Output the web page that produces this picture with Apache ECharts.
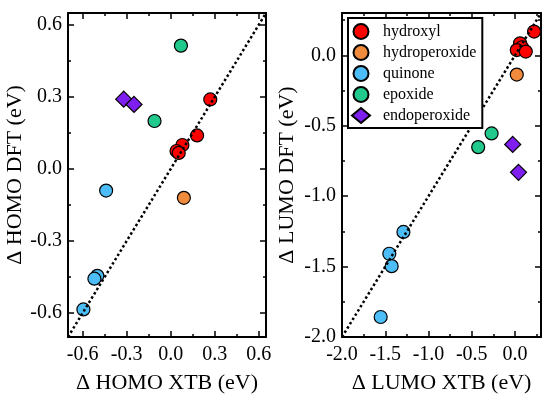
<!DOCTYPE html>
<html>
<head>
<meta charset="utf-8">
<script src="https://cdn.jsdelivr.net/npm/echarts@6/dist/echarts.min.js"></script>
<style>
  html, body { margin: 0; padding: 0; background: #fff; }
  #main { width: 550px; height: 402px; }
</style>
</head>
<body>
<div id="main"></div>
<script>
// HOMO panel (x: XTB, y: DFT)
const homoHydroxyl = [[0.27, 0.29], [0.18, 0.14], [0.08, 0.10], [0.04, 0.075], [0.055, 0.067]]
const homoHydroperoxide = [[0.09, -0.12]]
const homoQuinone = [[-0.44, -0.09], [-0.50, -0.445], [-0.52, -0.457], [-0.595, -0.585]]
const homoEpoxide = [[0.07, 0.514], [-0.11, 0.20]]
const homoEndoperoxide = [[-0.32, 0.291], [-0.25, 0.269]]

// LUMO panel
const lumoHydroxyl = [[0.22, 0.168], [0.058, 0.085], [0.08, 0.057], [0.02, 0.037], [0.124, 0.026]]
const lumoHydroperoxide = [[0.02, -0.137]]
const lumoQuinone = [[-1.29, -1.254], [-1.453, -1.409], [-1.426, -1.497], [-1.553, -1.858]]
const lumoEpoxide = [[-0.271, -0.555], [-0.426, -0.652]]
const lumoEndoperoxide = [[-0.027, -0.633], [0.04, -0.831]]

// axes ranges and ticks
const homoRange = [-0.7, 0.65]
const homoTicks = [-0.6, -0.3, 0, 0.3, 0.6]
const homoMinor = [-0.45, -0.15, 0.15, 0.45]
const lumoRange = [-2.0, 0.3]
const lumoTicks = [-2.0, -1.5, -1.0, -0.5, 0]
const lumoMinor = [-1.75, -1.25, -0.75, -0.25, 0.25]

const groups = ['hydroxyl', 'hydroperoxide', 'quinone', 'epoxide', 'endoperoxide']
const colors = ['#FF0000', '#F08A3C', '#4CBDF7', '#21C98D', '#7F1FEF']
const homoData = [homoHydroxyl, homoHydroperoxide, homoQuinone, homoEpoxide, homoEndoperoxide]
const lumoData = [lumoHydroxyl, lumoHydroperoxide, lumoQuinone, lumoEpoxide, lumoEndoperoxide]

const font = 'Liberation Serif'

// 4 axes per side: main (labels + major ticks), main minor, opposite major, opposite minor
function frameAxes(dim, grid, range, majors, minors, name, nameGap) {
    const main = dim == 'x' ? 'bottom' : 'left'
    const opp = dim == 'x' ? 'top' : 'right'
    const line = { show: true, onZero: false, lineStyle: { color: '#000', width: 2 } }
    const tick = (vals, len) => ({ show: true, inside: true, length: len, customValues: vals, lineStyle: { color: '#000', width: 1.5 } })
    const base = {
        type: 'value', gridIndex: grid, min: range[0], max: range[1],
        splitLine: { show: false },
        axisLine: { show: false, onZero: false },
        axisLabel: { show: false },
        axisTick: { show: false }
    }
    return [
        Object.assign({}, base, {
            position: main,
            name: name,
            nameLocation: 'middle',
            nameGap: nameGap,
            nameTextStyle: { fontFamily: font, fontSize: 22, color: '#000' },
            axisLine: line,
            axisTick: tick(majors, 6),
            axisLabel: {
                show: true, customValues: majors, margin: dim == 'x' ? 8 : 6,
                fontFamily: font, fontSize: 20, color: '#000',
                formatter: v => v.toFixed(1)
            }
        }),
        Object.assign({}, base, { position: main, axisTick: tick(minors, 3) }),
        Object.assign({}, base, { position: opp, axisLine: line, axisTick: tick(majors, 6) }),
        Object.assign({}, base, { position: opp, axisTick: tick(minors, 3) })
    ]
}

function scatterSeries(dataList, axisIdx) {
    return groups.map((g, i) => ({
        name: g,
        type: 'scatter',
        xAxisIndex: axisIdx,
        yAxisIndex: axisIdx,
        symbol: g == 'endoperoxide' ? 'diamond' : 'circle',
        symbolSize: g == 'endoperoxide' ? 16 : 13,
        itemStyle: { color: colors[i], borderColor: '#000', borderWidth: 1.2, opacity: 1 },
        data: dataList[i]
    }))
}

function diagSeries(range, axisIdx) {
    return {
        type: 'line',
        xAxisIndex: axisIdx,
        yAxisIndex: axisIdx,
        symbol: 'none',
        silent: true,
        lineStyle: { color: '#000', width: 2.5, type: 'dotted' },
        data: [[range[0], range[0]], [range[1], range[1]]]
    }
}

var myChart = echarts.init(document.getElementById('main'))
let option = {
    animation: false,
    backgroundColor: '#fff',
    grid: [
        { left: 68, top: 13, width: 198, height: 324 },
        { left: 342, top: 13, width: 199, height: 324 }
    ],
    xAxis: [].concat(
        frameAxes('x', 0, homoRange, homoTicks, homoMinor, 'Δ HOMO XTB (eV)', 35),
        frameAxes('x', 1, lumoRange, lumoTicks, lumoMinor, 'Δ LUMO XTB (eV)', 35)
    ),
    yAxis: [].concat(
        frameAxes('y', 0, homoRange, homoTicks, homoMinor, 'Δ HOMO DFT (eV)', 42),
        frameAxes('y', 1, lumoRange, lumoTicks, lumoMinor, 'Δ LUMO DFT (eV)', 44)
    ),
    legend: {
        orient: 'vertical',
        left: 348,
        top: 18,
        padding: [5, 6, 4, 3],
        itemWidth: 18,
        itemHeight: 15,
        itemGap: 4,
        borderColor: '#000',
        borderWidth: 2,
        backgroundColor: '#fff',
        textStyle: { fontFamily: font, fontSize: 16, color: '#000', lineHeight: 15, padding: [0, 0, 0, 8] },
        data: groups.map(g => ({ name: g, icon: g == 'endoperoxide' ? 'diamond' : 'circle' }))
    },
    series: [].concat(
        [diagSeries(homoRange, 0)],
        scatterSeries(homoData, 0),
        [diagSeries(lumoRange, 4)],
        scatterSeries(lumoData, 4)
    )
}
myChart.setOption(option)
</script>
</body>
</html>
